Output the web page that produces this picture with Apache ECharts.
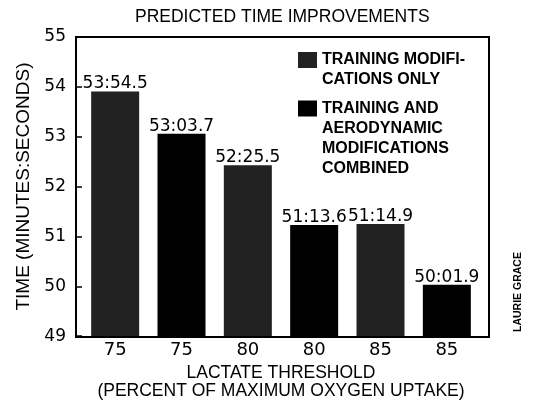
<!DOCTYPE html>
<html>
<head>
<meta charset="utf-8">
<script src="https://cdn.jsdelivr.net/npm/echarts@6/dist/echarts.min.js"></script>
<style>html,body{margin:0;padding:0;background:#fff}#c{width:533px;height:405px}</style>
</head>
<body>
<div id="c"></div>
<script>
// Data (times in minutes:seconds)
const categories = ['75', '75', '80', '80', '85', '85'];
const trainingOnlyTimes = ['53:54.5', null, '52:25.5', null, '51:14.9', null];
const combinedTimes = [null, '53:03.7', null, '51:13.6', null, '50:01.9'];
const yMin = 49, yMax = 55, yInterval = 1;
const seriesNames = ['TRAINING MODIFICATIONS ONLY', 'TRAINING AND AERODYNAMIC MODIFICATIONS COMBINED'];
const legendTexts = [['TRAINING MODIFI-', 'CATIONS ONLY'], ['TRAINING AND', 'AERODYNAMIC', 'MODIFICATIONS', 'COMBINED']];

function toMinutes(t) {
  if (!t) return '-';
  const parts = t.split(':');
  return Number(parts[0]) + Number(parts[1]) / 60;
}

const TXT = '"Liberation Sans", Arial, sans-serif';
const NUM = '"DejaVu Sans", sans-serif';

const chart = echarts.init(document.getElementById('c'), null, {renderer: 'canvas'});

function makeSeries(name, times, color) {
  return {
    name: name,
    type: 'bar',
    barWidth: 48,
    barGap: '-100%',
    itemStyle: {color: color},
    label: {
      show: true, position: 'top', distance: -1,
      fontFamily: NUM, fontSize: 17, color: '#000',
      formatter: p => times[p.dataIndex] || ''
    },
    data: times.map(toMinutes)
  };
}

function makeLegend(i, top) {
  const lines = legendTexts[i];
  return {
    data: [seriesNames[i]],
    orient: 'vertical',
    left: 298, top: top, padding: 0,
    icon: 'rect', itemWidth: 19, itemHeight: 16,
    selectedMode: false,
    formatter: () => '\n'.repeat(lines.length - 1) + lines.join('\n'),
    textStyle: {fontFamily: TXT, fontSize: 16, fontWeight: 'bold', lineHeight: 20, color: '#000'}
  };
}

chart.setOption({
  animation: false,
  backgroundColor: '#fff',
  title: {
    text: 'PREDICTED TIME IMPROVEMENTS',
    left: 135, top: 8, padding: 0,
    textStyle: {fontFamily: TXT, fontSize: 17.5, fontWeight: 'normal', color: '#000'}
  },
  legend: [makeLegend(0, 30), makeLegend(1, 38.5)],
  grid: {left: 82, right: 53, top: 37, bottom: 68},
  xAxis: {
    type: 'category',
    data: categories,
    axisLine: {show: false},
    axisTick: {show: false},
    axisLabel: {fontFamily: NUM, fontSize: 18, color: '#000', margin: 5},
    name: 'LACTATE THRESHOLD\n(PERCENT OF MAXIMUM OXYGEN UPTAKE)',
    nameLocation: 'middle',
    nameGap: 25,
    nameTextStyle: {fontFamily: TXT, fontSize: 17.5, color: '#000', lineHeight: 18}
  },
  yAxis: {
    type: 'value',
    min: yMin, max: yMax, interval: yInterval,
    offset: 6,
    axisLine: {show: true, lineStyle: {color: '#000', width: 2}},
    axisTick: {show: true, inside: true, length: 6, lineStyle: {color: '#000', width: 1.5}},
    splitLine: {show: false},
    axisLabel: {fontFamily: NUM, fontSize: 17, color: '#000', margin: 10},
    name: 'TIME (MINUTES:SECONDS)',
    nameLocation: 'middle',
    nameGap: 38,
    nameTextStyle: {fontFamily: TXT, fontSize: 19, color: '#000'}
  },
  graphic: [
    {type: 'rect', z: 100, shape: {x: 76, y: 37, width: 413, height: 300},
     style: {fill: 'none', stroke: '#000', lineWidth: 2}},
    {type: 'text', z: 100, x: 518, y: 292, rotation: Math.PI / 2,
     style: {text: 'LAURIE GRACE', fontFamily: TXT,
             fontSize: 10.5, fontWeight: 'bold', fill: '#000', align: 'center', verticalAlign: 'middle'}}
  ],
  series: [
    makeSeries(seriesNames[0], trainingOnlyTimes, '#222'),
    makeSeries(seriesNames[1], combinedTimes, '#000')
  ]
});
</script>
</body>
</html>
